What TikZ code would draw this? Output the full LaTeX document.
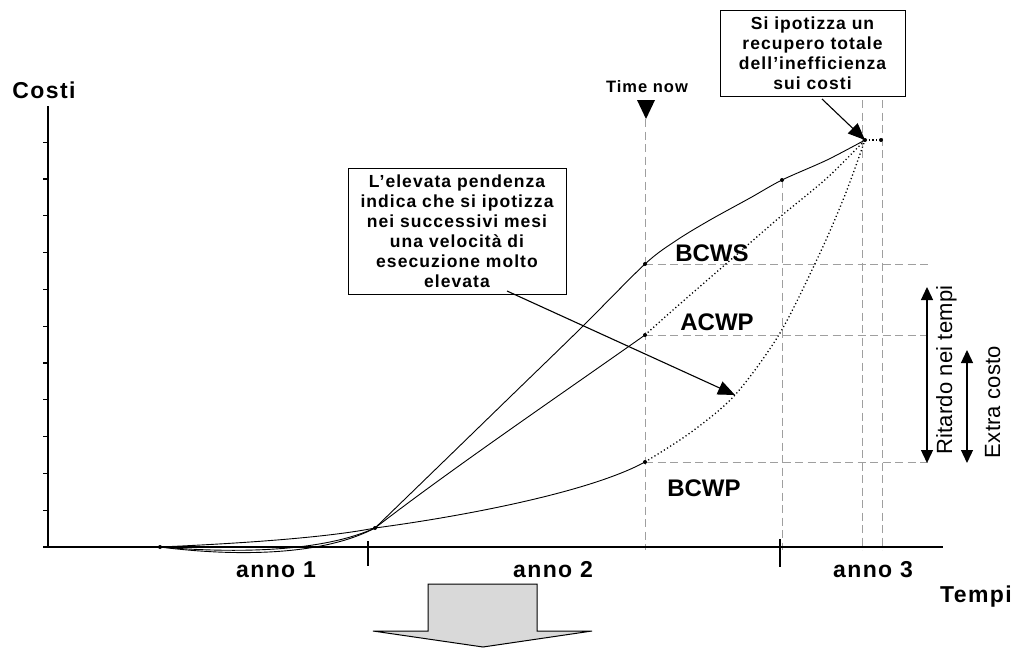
\documentclass[tikz,border=0pt]{standalone}
\usepackage{fontspec}
\setmainfont{Liberation Sans}
\newfontfamily\tracked[LetterSpace=6]{Liberation Sans}
\newfontfamily\trackedlight[LetterSpace=1]{Liberation Sans}
\usetikzlibrary{arrows.meta}

\begin{document}
\begin{tikzpicture}[x=1pt,y=-1pt,
  curve/.style={line width=0.9pt},
  dotcurve/.style={line width=1.3pt, dash pattern=on 1.2pt off 2.5pt},
  guide/.style={gray!75, line width=0.9pt, dash pattern=on 8pt off 4.5pt},
  pt/.style={circle, fill=black, inner sep=0pt, minimum size=4pt},
  axislbl/.style={font=\tracked\bfseries\fontsize{23}{25}\selectfont, inner sep=0pt, anchor=base},
  curvelbl/.style={font=\bfseries\fontsize{24}{26}\selectfont, inner sep=0pt},
  callout/.style={draw, line width=1pt, align=center, inner sep=2pt,
    font=\tracked\bfseries\fontsize{17.5}{20}\selectfont},
  sidelbl/.style={font=\trackedlight\fontsize{22}{24}\selectfont, rotate=90, anchor=base, inner sep=0pt},
  callarrow/.style={line width=1.1pt, -{Triangle[length=17pt,width=14pt]}},
  spanarrow/.style={line width=1.3pt, {Triangle[length=13pt,width=12pt]}-{Triangle[length=13pt,width=12pt]}},
]
\useasboundingbox (0,0) rectangle (1018,648);

% key points of the three curves
\coordinate (S) at (160,547);
\coordinate (J) at (375,528);
\coordinate (B1) at (645,264);
\coordinate (A1) at (645,335);
\coordinate (P1) at (645,462);
\coordinate (B2) at (782,180);
\coordinate (E) at (865,140);
\coordinate (E2) at (881,140);

% dashed guide lines
\draw[guide] (645,119) -- (645,550);
\draw[guide] (B2) -- (782,550);
\draw[guide] (862,100) -- (862,550);
\draw[guide] (882,100) -- (882,550);
\draw[guide] (B1) -- (930,264);
\draw[guide] (A1) -- (930,335);
\draw[guide] (P1) -- (930,462);

% axes
\draw[line width=1.3pt] (43,547) -- (943,547);
\draw[line width=1.3pt] (48,547) -- (48,106);
\foreach \k in {1,...,11} \draw[line width=1.2pt] (43,{547-36.8*\k}) -- (48,{547-36.8*\k});
\draw[line width=1.3pt] (368,541) -- (368,566);
\draw[line width=1.3pt] (780,539) -- (780,567);

% BCWS
\draw[curve] (S) .. controls (230,556) and (320,557) .. (J);
\draw[curve] plot[smooth, tension=0.5] coordinates {(375,528) (440,465) (510,397) (580,329) (645,264) (677,240) (710,220) (750,198) (782,180) (827,160) (865,140)};
\draw[dotcurve] (E) -- (E2);
% ACWP
\draw[curve] (S) .. controls (230,553) and (320,553) .. (J)
  .. controls (450,470) and (560,395) .. (A1);
\draw[dotcurve] plot[smooth] coordinates {(645,335) (673,310) (727,263) (780,217) (827,178) (865,140)};
% BCWP
\draw[curve] (S) .. controls (250,543) and (330,537) .. (J)
  .. controls (465,516) and (590,492) .. (P1);
\draw[dotcurve] plot[smooth] coordinates {(645,462) (690,433) (735,395) (780,333) (820,253) (845,195) (865,140)};

% marked points
\foreach \p in {S,J,B1,A1,P1,B2,E,E2} \node[pt] (dot\p) at (\p) {};

% time now marker
\node[font=\tracked\bfseries\fontsize{16.5}{18}\selectfont, anchor=base, inner sep=0pt] (tnow) at (647,92) {Time now};
\fill (637,100) -- (655,100) -- (646,119) -- cycle;

% axis labels
\node[axislbl] (costi) at (44,98) {Costi};
\node[axislbl] (tempi) at (976,602) {Tempi};
\node[axislbl] (anno1) at (276,577) {anno 1};
\node[axislbl] (anno2) at (553,577) {anno 2};
\node[axislbl] (anno3) at (873,577) {anno 3};

% curve labels
\node[curvelbl] (lbcws) at (712,253) {BCWS};
\node[curvelbl] (lacwp) at (717,322) {ACWP};
\node[curvelbl] (lbcwp) at (704,488) {BCWP};

% callouts
\node[callout, minimum width=218pt, minimum height=126pt] (note1) at (457,231)
  {L’elevata pendenza\\indica che si ipotizza\\nei successivi mesi\\una velocità di\\esecuzione molto\\elevata};
\coordinate (tip1) at (735,395);
\draw[callarrow] (507,291) -- (tip1);

\node[callout, minimum width=185pt, minimum height=86pt] (note2) at (812.5,53)
  {Si ipotizza un\\recupero totale\\dell’inefficienza\\sui costi};
\draw[callarrow] (822,99) -- (E);

% delay and extra cost spans
\coordinate (r1) at (927,287);
\coordinate (r2) at (927,463);
\coordinate (x1) at (967,350);
\coordinate (x2) at (967,463);
\draw[spanarrow] (r1) -- (r2);
\draw[spanarrow] (x1) -- (x2);
\node[sidelbl] (ritardo) at (952,370) {Ritardo nei tempi};
\node[sidelbl] (extra) at (1000,402) {Extra costo};

% big downward arrow
\draw[fill=black!15, line width=1pt] (428,584) -- (537,584) -- (537,631) -- (592,631)
  -- (483,647) -- (373,631) -- (428,631) -- cycle;
\end{tikzpicture}
\end{document}
